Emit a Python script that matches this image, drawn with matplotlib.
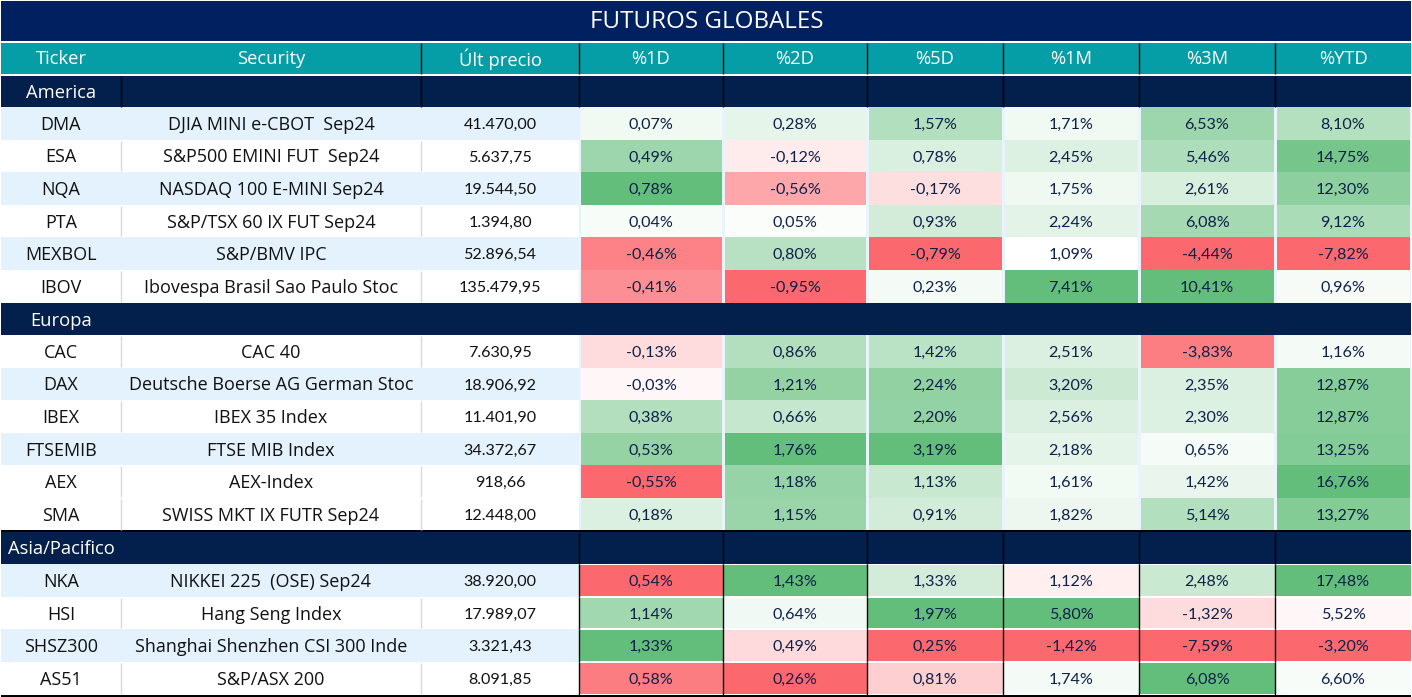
#!/usr/bin/env python3
# -*- coding: utf-8 -*-
"""
Futuros globales: conditional format table
"""
import matplotlib
matplotlib.use('Agg')
import matplotlib.pyplot as plt
from matplotlib.patches import Rectangle
import numpy as np

TITLE = 'FUTUROS GLOBALES'
HEADERS = ['Ticker', 'Security', 'Últ precio', '%1D', '%2D', '%5D', '%1M', '%3M', '%YTD']

AMERICA_TICKER = ['DMA', 'ESA', 'NQA', 'PTA', 'MEXBOL', 'IBOV']
AMERICA_NAME = ['DJIA MINI e-CBOT  Sep24', 'S&P500 EMINI FUT  Sep24', 'NASDAQ 100 E-MINI Sep24',
                'S&P/TSX 60 IX FUT Sep24', 'S&P/BMV IPC', 'Ibovespa Brasil Sao Paulo Stoc']
AMERICA_PRICE = ['41.470,00', '5.637,75', '19.544,50', '1.394,80', '52.896,54', '135.479,95']
AMERICA_PCT = [[0.07, 0.28, 1.57, 1.71, 6.53, 8.10],
               [0.49, -0.12, 0.78, 2.45, 5.46, 14.75],
               [0.78, -0.56, -0.17, 1.75, 2.61, 12.30],
               [0.04, 0.05, 0.93, 2.24, 6.08, 9.12],
               [-0.46, 0.80, -0.79, 1.09, -4.44, -7.82],
               [-0.41, -0.95, 0.23, 7.41, 10.41, 0.96]]

EUROPA_TICKER = ['CAC', 'DAX', 'IBEX', 'FTSEMIB', 'AEX', 'SMA']
EUROPA_NAME = ['CAC 40', 'Deutsche Boerse AG German Stoc', 'IBEX 35 Index', 'FTSE MIB Index',
               'AEX-Index', 'SWISS MKT IX FUTR Sep24']
EUROPA_PRICE = ['7.630,95', '18.906,92', '11.401,90', '34.372,67', '918,66', '12.448,00']
EUROPA_PCT = [[-0.13, 0.86, 1.42, 2.51, -3.83, 1.16],
              [-0.03, 1.21, 2.24, 3.20, 2.35, 12.87],
              [0.38, 0.66, 2.20, 2.56, 2.30, 12.87],
              [0.53, 1.76, 3.19, 2.18, 0.65, 13.25],
              [-0.55, 1.18, 1.13, 1.61, 1.42, 16.76],
              [0.18, 1.15, 0.91, 1.82, 5.14, 13.27]]

ASIA_TICKER = ['NKA', 'HSI', 'SHSZ300', 'AS51']
ASIA_NAME = ['NIKKEI 225  (OSE) Sep24', 'Hang Seng Index', 'Shanghai Shenzhen CSI 300 Inde', 'S&P/ASX 200']
ASIA_PRICE = ['38.920,00', '17.989,07', '3.321,43', '8.091,85']
ASIA_PCT = [[0.54, 1.43, 1.33, 1.12, 2.48, 17.48],
            [1.14, 0.64, 1.97, 5.80, -1.32, 5.52],
            [1.33, 0.49, 0.25, -1.42, -7.59, -3.20],
            [0.58, 0.26, 0.81, 1.74, 6.08, 6.60]]

W, H = 1412, 697
COL_X = [1, 121, 421, 579, 723, 867, 1003, 1139, 1275, 1411]
NAVY = '#002060'
DARK = '#03204c'
TEAL = '#069ea6'
PALE = '#e3f2fd'
GAP = '#e9f3fb'
RED = np.array([0xfb, 0x69, 0x6f]) / 255
GREEN = np.array([0x63, 0xbe, 0x7b]) / 255
WHITE = np.ones(3)
FONT_WIDE = 'Open Sans'
FONT_NUM = 'Lato'
SIZE_WIDE = 13.2
SIZE_NAME = 13.0
SIZE_NUM = 11.6
DY = 1.5  # text sits a bit low in the cells


def scale_color(val, low, mid, high):
    """ three colour scale red / white / green """
    if val >= mid:
        frac = 0 if high == mid else (val - mid) / (high - mid)
        return WHITE + (GREEN - WHITE) * frac
    return WHITE + (RED - WHITE) * (mid - val) / (mid - low)


def box(ax, x0, x1, y0, y1, color):
    """ filled rectangle in pixel coordinates """
    ax.add_patch(Rectangle((x0, y0), x1 - x0, y1 - y0, facecolor=color, edgecolor='none'))


def band(ax, y0, y1, label, dividers):
    """ dark bar with the region name """
    box(ax, COL_X[0], COL_X[-1], y0, y1, DARK)
    ax.text(61, (y0 + y1) / 2 + DY, label, color='white', ha='center', va='center',
            fontsize=SIZE_WIDE, family=FONT_WIDE)
    ax.vlines(dividers, y0, y1, color='black', linewidth=1)


def rows(ax, top, height, tickers, names, prices, pct, scales, pale_rows, boxed=False):
    """ draw the rows of one region """
    for i in range(len(tickers)):
        y0 = top + i * height
        y1 = y0 + height
        ymid = (y0 + y1) / 2 + DY
        box(ax, COL_X[0], COL_X[3], y0, y1, PALE if i in pale_rows else 'white')
        if i not in pale_rows:
            ax.vlines(COL_X[1:3], y0 + 1, y1 - 1, color='#d9d9d9', linewidth=1)
        for j, txt in enumerate([tickers[i], names[i]]):
            ax.text((COL_X[j] + COL_X[j + 1]) / 2, ymid, txt, color='#111111', ha='center',
                    va='center', fontsize=SIZE_NAME, family=FONT_WIDE)
        ax.text((COL_X[2] + COL_X[3]) / 2, ymid, prices[i], color='#111111', ha='center',
                va='center', fontsize=SIZE_NUM, family=FONT_NUM)
        for j in range(6):
            x0, x1 = COL_X[j + 3], COL_X[j + 4]
            color = scale_color(pct[i][j], *scales[j])
            if boxed:
                box(ax, x0, x1, y0 + 1, y1 - 1, color)
                ax.vlines(x0, y0, y1, color='black', linewidth=1)
            else:
                box(ax, x0 + 1.5, x1 - 1.5, y0, y1, color)
            ax.text((x0 + x1) / 2, ymid, f'{pct[i][j]:.2f}%'.replace('.', ','), color='#0e2048',
                    ha='center', va='center', fontsize=SIZE_NUM, family=FONT_NUM)


def main():
    """ build the table """
    fig = plt.figure(figsize=(W / 100, H / 100), dpi=100)
    ax = fig.add_axes([0, 0, 1, 1])
    ax.set_xlim(0, W)
    ax.set_ylim(H, 0)
    ax.axis('off')

    # title and header
    box(ax, COL_X[0], COL_X[-1], 1, 41, NAVY)
    ax.text(706.5, 22, TITLE, color='white', ha='center', va='center', fontsize=17.4, family=FONT_WIDE)
    box(ax, COL_X[0], COL_X[-1], 43, 74, TEAL)
    for j, txt in enumerate(HEADERS):
        ax.text((COL_X[j] + COL_X[j + 1]) / 2, 58 + DY, txt, color='white', ha='center', va='center',
                fontsize=SIZE_WIDE, family=FONT_WIDE)
    ax.vlines(COL_X[2:-1], 43, 74, color='black', linewidth=1)

    # America and Europa share one colour scale, Asia has its own
    top_pct = np.array(AMERICA_PCT + EUROPA_PCT)
    top_scales = [(c.min(), max(0, c.min()), c.max()) for c in top_pct.T]
    asia_pct = np.array(ASIA_PCT)
    asia_scales = [(c.min(), np.median(c), c.max()) for c in asia_pct.T]

    box(ax, COL_X[3] - 1.5, COL_X[-1], 107, 530, GAP)

    band(ax, 76, 107, 'America', COL_X[1:-1])
    rows(ax, 107, 32.6, AMERICA_TICKER, AMERICA_NAME, AMERICA_PRICE, AMERICA_PCT, top_scales, [0, 2, 4])
    band(ax, 303, 335, 'Europa', [])
    rows(ax, 335, 32.6, EUROPA_TICKER, EUROPA_NAME, EUROPA_PRICE, EUROPA_PCT, top_scales, [1, 3])
    box(ax, COL_X[0], COL_X[-1], 530, 532, 'black')
    band(ax, 532, 564, 'Asia/Pacifico', COL_X[3:-1])
    rows(ax, 564, 32.7, ASIA_TICKER, ASIA_NAME, ASIA_PRICE, ASIA_PCT, asia_scales, [0, 2], boxed=True)
    box(ax, COL_X[0], COL_X[-1], 695, 697, 'black')

    fig.savefig('out.png', dpi=100)


if __name__ == '__main__':
    main()
